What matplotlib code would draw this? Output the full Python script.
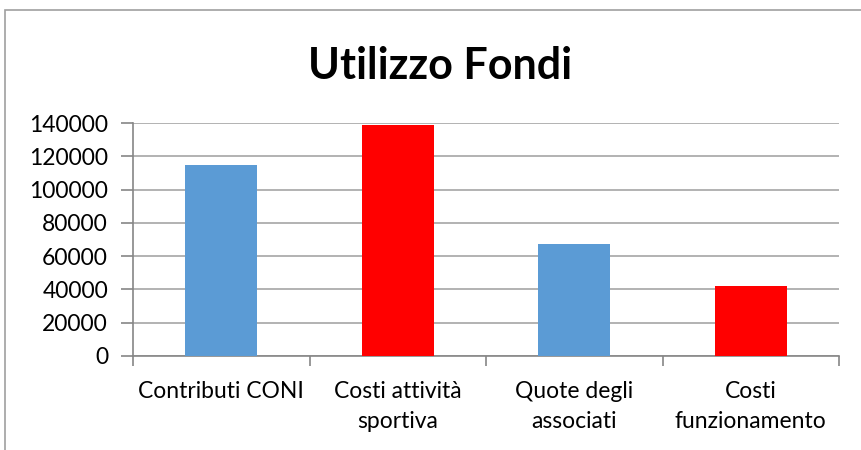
import matplotlib
matplotlib.use("Agg")
import matplotlib.pyplot as plt
from matplotlib.patches import Rectangle

categories = ["Contributi CONI", "Costi attività\nsportiva", "Quote degli\nassociati", "Costi\nfunzionamento"]
values = [114500, 138500, 67000, 42000]
colors = ["#5B9BD5", "#FF0000", "#5B9BD5", "#FF0000"]
yticks = [0, 20000, 40000, 60000, 80000, 100000, 120000, 140000]

plt.rcParams['font.family'] = ['Lato', 'DejaVu Sans']

W, H = 861, 450
fig = plt.figure(figsize=(W/100, H/100), dpi=100)
# chart border (cropped on right/bottom)
fig.patches.append(Rectangle((5/W, -0.1), 2, (H-10)/H + 0.1, transform=fig.transFigure,
                             fill=False, edgecolor="#A0A0A0", linewidth=1.2))

left, right, top, bottom = 133, 839, 123, 356
ax = fig.add_axes([left/W, 1-bottom/H, (right-left)/W, (bottom-top)/H])
x = list(range(len(categories)))
ax.bar(x, values, width=0.41, color=colors, zorder=3)
ax.set_xlim(-0.5, len(categories)-0.5)
ax.set_ylim(0, 140000)
ax.set_yticks(yticks)
ax.set_yticklabels([str(v) for v in yticks], fontsize=16.5)
ax.yaxis.grid(True, color="#A6A6A6", linewidth=1.2, zorder=0)
ax.set_xticks(x)
ax.set_xticklabels(categories, fontsize=16.5, linespacing=1.5, va="top")
ax.tick_params(axis='x', length=0, pad=18)
ax.set_xticks([i - 0.5 for i in range(len(categories)+1)], minor=True)
ax.tick_params(axis='x', which='minor', length=7, color="#868686", width=1.2)
ax.tick_params(axis='y', length=9, color="#868686", width=1.2, pad=9)
for s in ["top", "right"]:
    ax.spines[s].set_visible(False)
for s in ["left", "bottom"]:
    ax.spines[s].set_color("#868686")
    ax.spines[s].set_linewidth(1.2)

fig.text(440/W, 1-66/H, "Utilizzo Fondi", fontsize=31, fontweight="bold", ha="center", va="center")

fig.savefig("out.png", dpi=100)
